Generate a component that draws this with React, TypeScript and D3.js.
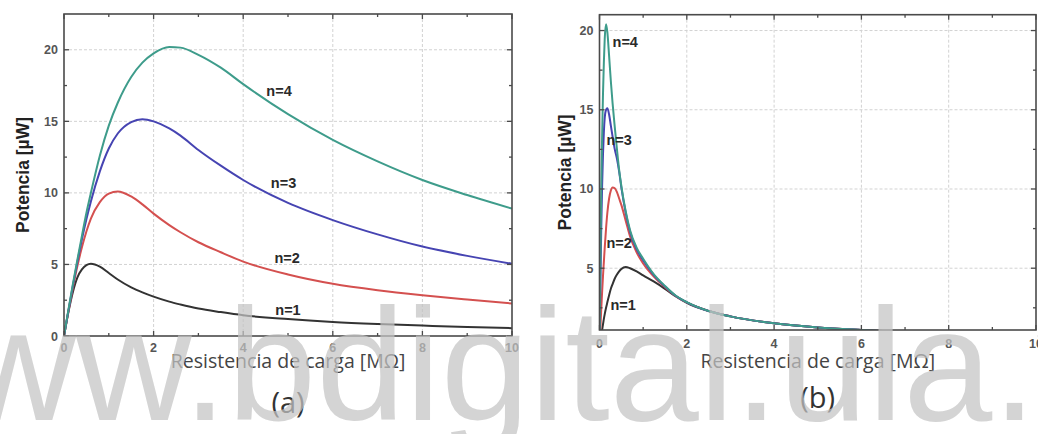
import React from "react";
import * as d3 from "d3";

const W = 1038;
const H = 434;

// panel (a): load resistance samples [MΩ] and power [µW] per n
const rA = [0, 0.1, 0.2, 0.3, 0.4, 0.5, 0.6, 0.8, 1.0, 1.2, 1.5, 1.75, 2, 2.35, 2.6, 3, 3.5, 4, 5, 6, 7, 8, 9, 10];
const a1 = [0, 1.7, 3.1, 4.1, 4.65, 4.95, 5.05, 4.85, 4.4, 3.95, 3.4, 3.05, 2.75, 2.4, 2.2, 1.92, 1.67, 1.45, 1.18, 0.98, 0.84, 0.73, 0.63, 0.55];
const a2 = [0, 1.75, 3.4, 4.9, 6.2, 7.3, 8.2, 9.35, 9.95, 10.1, 9.75, 9.2, 8.55, 7.75, 7.25, 6.55, 5.85, 5.2, 4.3, 3.65, 3.2, 2.85, 2.55, 2.27];
const a3 = [0, 1.8, 3.55, 5.2, 6.75, 8.15, 9.4, 11.5, 13.1, 14.15, 14.95, 15.15, 15.0, 14.5, 14.0, 13.0, 11.9, 10.9, 9.3, 8.1, 7.1, 6.25, 5.6, 5.05];
const a4 = [0, 1.85, 3.65, 5.35, 7.0, 8.6, 10.0, 12.6, 14.7, 16.3, 18.1, 19.1, 19.75, 20.2, 20.15, 19.65, 18.75, 17.6, 15.5, 13.7, 12.2, 10.9, 9.85, 8.9];

// panel (b)
const rB = [0, 0.02, 0.04, 0.06, 0.08, 0.1, 0.12, 0.15, 0.18, 0.22, 0.26, 0.3, 0.35, 0.4, 0.45, 0.5, 0.6, 0.7, 0.85, 1.0, 1.25, 1.5, 1.75, 2, 2.5, 3, 4, 5, 6, 7, 8, 10];
const b1 = [0, 0.4, 0.75, 1.1, 1.45, 1.8, 2.1, 2.5, 2.85, 3.3, 3.7, 4.0, 4.35, 4.6, 4.8, 4.95, 5.08, 5.0, 4.8, 4.55, 4.15, 3.7, 3.22, 2.82, 2.3, 1.96, 1.52, 1.26, 1.1, 0.97, 0.86, 0.7];
const b2 = [0, 1.2, 2.4, 3.5, 4.5, 5.4, 6.3, 7.5, 8.5, 9.4, 9.9, 10.1, 10.05, 9.8, 9.4, 9.0, 8.0, 7.0, 6.0, 5.3, 4.45, 3.8, 3.24, 2.84, 2.3, 1.96, 1.52, 1.26, 1.1, 0.97, 0.86, 0.7];
const b3 = [0, 4, 7.5, 10.2, 12.2, 13.6, 14.5, 15.0, 15.1, 14.7, 14.0, 13.3, 12.5, 11.9, 11.1, 10.1, 8.5, 7.3, 6.2, 5.5, 4.55, 3.85, 3.25, 2.85, 2.3, 1.96, 1.52, 1.26, 1.1, 0.97, 0.86, 0.7];
const b4 = [0, 5, 10, 13.3, 16, 18, 19.5, 20.4, 19.9, 18.4, 16.8, 15.4, 13.9, 12.5, 11.2, 10.2, 8.6, 7.4, 6.3, 5.6, 4.6, 3.88, 3.26, 2.86, 2.3, 1.96, 1.52, 1.26, 1.1, 0.97, 0.86, 0.7];

const seriesNames = ["n=1", "n=2", "n=3", "n=4"];
const colors = ["#333333", "#d4504f", "#4644b2", "#3e9c8b"];
const xTicks = [0, 2, 4, 6, 8, 10];
const xMinor = [1, 3, 5, 7, 9];
const yTicksA = [0, 5, 10, 15, 20];
const yTicksB = [5, 10, 15, 20];
const yMinor = [2.5, 7.5, 12.5, 17.5];
// label anchors in data units
const labelPosA = [[5.0, 1.8], [4.98, 5.43], [4.9, 10.7], [4.8, 17.1]];
const labelPosB = [[0.54, 2.66], [0.45, 6.6], [0.45, 13.1], [0.59, 19.3]];

const SANS = "'Liberation Sans', Arial, sans-serif";
const OPEN = "'Open Sans', 'Noto Sans', sans-serif";

type PanelProps = {
  id: string;
  box: [number, number, number, number];
  yDomain: [number, number];
  yTicks: number[];
  xs: number[];
  ys: number[][];
  labelPos: number[][];
  yLabelX: number;
  tag: string;
  tagY: number;
  xTickY: number;
};

function Panel({ id, box, yDomain, yTicks, xs, ys, labelPos, yLabelX, tag, tagY, xTickY }: PanelProps) {
  const [left, top, right, bottom] = box;
  const x = d3.scaleLinear().domain([0, 10]).range([left, right]);
  const y = d3.scaleLinear().domain(yDomain).range([bottom, top]);
  const line = d3
    .line<number>()
    .x((_, i) => x(xs[i]))
    .y((d) => y(d))
    .curve(d3.curveMonotoneX);
  const cx = (left + right) / 2;
  const yMid = (top + bottom) / 2;

  return (
    <g>
      <defs>
        <clipPath id={id}>
          <rect x={left} y={top} width={right - left} height={bottom - top} />
        </clipPath>
      </defs>
      {/* grid */}
      {xTicks.filter((t) => t > 0 && t < 10).map((t) => (
        <line key={"gx" + t} x1={x(t)} x2={x(t)} y1={top} y2={bottom} stroke="#d2d2d2" strokeDasharray="3,2" />
      ))}
      {yTicks.filter((t) => t > yDomain[0] && t < yDomain[1]).map((t) => (
        <line key={"gy" + t} x1={left} x2={right} y1={y(t)} y2={y(t)} stroke="#d2d2d2" strokeDasharray="3,2" />
      ))}
      {/* curves */}
      <g clipPath={`url(#${id})`}>
        {ys.map((s, i) => (
          <path key={i} d={line(s) || ""} fill="none" stroke={colors[i]} strokeWidth={2} />
        ))}
      </g>
      {/* frame and inward ticks */}
      <rect x={left} y={top} width={right - left} height={bottom - top} fill="none" stroke="#4a4a4a" strokeWidth={1.6} />
      {xTicks.concat(xMinor).map((t) => {
        const len = xMinor.includes(t) ? 3 : 5;
        return (
          <g key={"tx" + t} stroke="#4a4a4a" strokeWidth={1.3}>
            <line x1={x(t)} x2={x(t)} y1={bottom} y2={bottom - len} />
            <line x1={x(t)} x2={x(t)} y1={top} y2={top + len} />
          </g>
        );
      })}
      {yTicks.concat(yMinor).map((t) => {
        const len = yMinor.includes(t) ? 3 : 5;
        return (
          <g key={"ty" + t} stroke="#4a4a4a" strokeWidth={1.3}>
            <line x1={left} x2={left + len} y1={y(t)} y2={y(t)} />
            <line x1={right} x2={right - len} y1={y(t)} y2={y(t)} />
          </g>
        );
      })}
      {/* tick labels */}
      {yTicks.map((t) => (
        <text key={"ly" + t} x={left - 6} y={y(t) + 4.5} textAnchor="end" fontFamily={SANS} fontWeight="bold" fontSize={12.5} fill="#555">
          {t}
        </text>
      ))}
      {xTicks.map((t) => (
        <text key={"lx" + t} x={x(t)} y={xTickY} textAnchor="middle" fontFamily={SANS} fontWeight="bold" fontSize={12.5} fill="#555">
          {t}
        </text>
      ))}
      {/* series labels */}
      {labelPos.map((p, i) => (
        <text key={"n" + i} x={x(p[0])} y={y(p[1]) + 5} textAnchor="middle" fontFamily={SANS} fontWeight="bold" fontSize={14.5} fill="#2a2a2a">
          {seriesNames[i]}
        </text>
      ))}
      {/* axis titles */}
      <text
        transform={`translate(${yLabelX},${yMid}) rotate(-90)`}
        textAnchor="middle"
        dominantBaseline="central"
        fontFamily={SANS}
        fontWeight="bold"
        fontSize={17.5}
        fill="#222"
      >
        Potencia [µW]
      </text>
      <text x={cx} y={368} textAnchor="middle" fontFamily={OPEN} fontSize={19.5} fill="#444">
        Resistencia de carga [MΩ]
      </text>
      <text x={cx} y={tagY} textAnchor="middle" fontFamily={OPEN} fontSize={29} fill="#333">
        {tag}
      </text>
    </g>
  );
}

export default function App() {
  return (
    <svg width={W} height={H} style={{ position: "absolute", left: 0, top: 0, background: "#fff" }}>
      <rect x={0} y={0} width={W} height={H} fill="#fff" />
      <Panel
        id="clipA"
        box={[64, 14, 512, 336]}
        yDomain={[0, 22.5]}
        yTicks={yTicksA}
        xs={rA}
        ys={[a1, a2, a3, a4]}
        labelPos={labelPosA}
        yLabelX={23}
        tag="(a)"
        tagY={413}
        xTickY={352}
      />
      <Panel
        id="clipB"
        box={[599.5, 14.7, 1036, 330]}
        yDomain={[1.1, 21]}
        yTicks={yTicksB}
        xs={rB}
        ys={[b1, b2, b3, b4]}
        labelPos={labelPosB}
        yLabelX={565}
        tag="(b)"
        tagY={408}
        xTickY={348}
      />
      {/* repository watermark */}
      <text x={-155} y={420} fontFamily={SANS} fontSize={160} fill="#c4c4c4" opacity={0.72}>
        www.bdigital.ula.ve
      </text>
    </svg>
  );
}
